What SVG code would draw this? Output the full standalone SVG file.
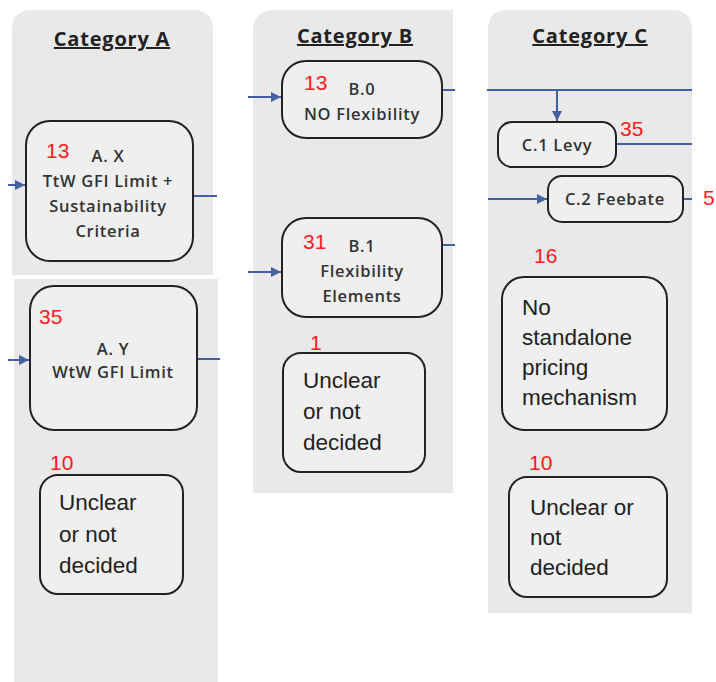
<svg xmlns="http://www.w3.org/2000/svg" width="716" height="682" viewBox="0 0 716 682">
<defs>
<style>
.panel{fill:#e9e9e9;stroke:none}
.box{fill:#efefef;stroke:#222;stroke-width:2}
.hdr{font-family:"Open Sans","Liberation Sans",sans-serif;font-weight:700;font-size:20px;letter-spacing:0.8px;fill:#222;text-anchor:middle;text-decoration:underline}
.lbl{font-family:"Open Sans","Liberation Sans",sans-serif;font-weight:600;font-size:16.5px;letter-spacing:0.7px;fill:#333;text-anchor:middle}
.big{font-family:"Liberation Sans","Open Sans",sans-serif;font-size:22.5px;fill:#222}
.num{font-family:"Liberation Sans","Open Sans",sans-serif;font-size:21px;fill:#ff1a1a}
.con{stroke:#4560a0;stroke-width:2;fill:none}
</style>
<marker id="ah" viewBox="0 0 10 10" refX="10" refY="5" markerWidth="5" markerHeight="5" orient="auto" markerUnits="strokeWidth">
<path d="M0,0 L10,5 L0,10 z" fill="#4560a0"/>
</marker>
</defs>
<rect width="716" height="682" fill="#fff"/>

<g id="panelA">
<path class="panel" d="M12,30 Q12,10 32,10 L193,10 Q213,10 213,30 L213,275 L12,275 z"/>
<rect class="panel" x="14" y="279" width="204" height="403"/>
<text class="hdr" x="112" y="46">Category A</text>
</g>
<g id="panelB">
<path class="panel" d="M253,32 Q253,10 275,10 L453,10 L453,493 L253,493 z"/>
<text class="hdr" x="355" y="43">Category B</text>
</g>
<g id="panelC">
<path class="panel" d="M488,30 Q488,10 508,10 L672,10 Q692,10 692,30 L692,613 L488,613 z"/>
<text class="hdr" x="590" y="43">Category C</text>
</g>

<g id="connectors">
<line class="con" x1="8" y1="185" x2="25" y2="185" marker-end="url(#ah)"/>
<line class="con" x1="193" y1="196" x2="217" y2="196"/>
<line class="con" x1="8" y1="360" x2="29" y2="360" marker-end="url(#ah)"/>
<line class="con" x1="197" y1="359" x2="220" y2="359"/>
<line class="con" x1="248" y1="97" x2="281" y2="97" marker-end="url(#ah)"/>
<line class="con" x1="442" y1="90" x2="455" y2="90"/>
<line class="con" x1="248" y1="272" x2="281" y2="272" marker-end="url(#ah)"/>
<line class="con" x1="442" y1="245" x2="455" y2="245"/>
<line class="con" x1="487" y1="90" x2="692" y2="90"/>
<line class="con" x1="557" y1="90" x2="557" y2="121" marker-end="url(#ah)"/>
<line class="con" x1="616" y1="144" x2="692" y2="144"/>
<line class="con" x1="488" y1="199" x2="547" y2="199" marker-end="url(#ah)"/>
<line class="con" x1="683" y1="199" x2="692" y2="199"/>
</g>

<g id="AX">
<rect class="box" x="26" y="121" width="167" height="140" rx="24"/>
<text class="num" x="46" y="158">13</text>
<text class="lbl" x="108" y="162">A. X</text>
<text class="lbl" x="108" y="187">TtW GFI Limit +</text>
<text class="lbl" x="108" y="212">Sustainability</text>
<text class="lbl" x="108" y="237">Criteria</text>
</g>
<g id="AY">
<rect class="box" x="30" y="286" width="167" height="144" rx="24"/>
<text class="num" x="39" y="324">35</text>
<text class="lbl" x="113" y="355">A. Y</text>
<text class="lbl" x="113" y="378">WtW GFI Limit</text>
</g>
<g id="AU">
<text class="num" x="50" y="470">10</text>
<rect class="box" x="40" y="475" width="143" height="119" rx="18"/>
<text class="big" x="59" y="510">Unclear</text>
<text class="big" x="59" y="542">or not</text>
<text class="big" x="59" y="573">decided</text>
</g>

<g id="B0">
<rect class="box" x="282" y="61" width="160" height="77" rx="24"/>
<text class="num" x="304" y="90">13</text>
<text class="lbl" x="362" y="95">B.0</text>
<text class="lbl" x="362" y="120">NO Flexibility</text>
</g>
<g id="B1">
<rect class="box" x="282" y="218" width="160" height="99" rx="24"/>
<text class="num" x="303" y="249">31</text>
<text class="lbl" x="362" y="252">B.1</text>
<text class="lbl" x="362" y="277">Flexibility</text>
<text class="lbl" x="362" y="302">Elements</text>
</g>
<g id="BU">
<text class="num" x="310" y="350">1</text>
<rect class="box" x="283" y="353" width="142" height="119" rx="18"/>
<text class="big" x="303" y="388">Unclear</text>
<text class="big" x="303" y="419">or not</text>
<text class="big" x="303" y="450">decided</text>
</g>

<g id="C1">
<rect class="box" x="498" y="122" width="118" height="45" rx="14"/>
<text class="lbl" x="557" y="151">C.1 Levy</text>
<text class="num" x="620" y="136">35</text>
</g>
<g id="C2">
<rect class="box" x="548" y="176" width="135" height="46" rx="14"/>
<text class="lbl" x="615" y="205">C.2 Feebate</text>
<text class="num" x="703" y="205">5</text>
</g>
<g id="CN">
<text class="num" x="534" y="263">16</text>
<rect class="box" x="502" y="277" width="165" height="153" rx="22"/>
<text class="big" x="522" y="315">No</text>
<text class="big" x="522" y="345">standalone</text>
<text class="big" x="522" y="375">pricing</text>
<text class="big" x="522" y="405">mechanism</text>
</g>
<g id="CU">
<text class="num" x="529" y="470">10</text>
<rect class="box" x="509" y="477" width="158" height="120" rx="18"/>
<text class="big" x="530" y="515">Unclear or</text>
<text class="big" x="530" y="545">not</text>
<text class="big" x="530" y="575">decided</text>
</g>
</svg>
